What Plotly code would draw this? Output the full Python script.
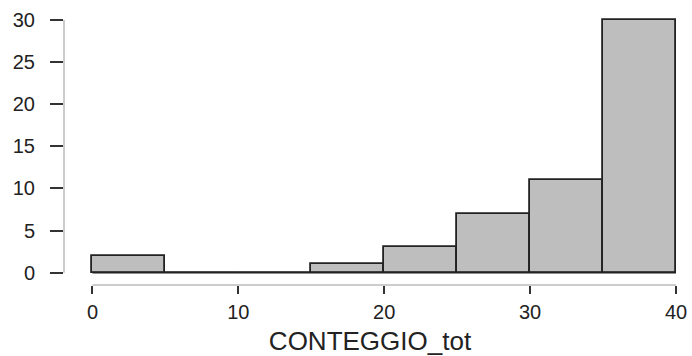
import plotly.graph_objects as go

# Histogram of CONTEGGIO_tot: bin edges and counts per bin
bin_edges = [0, 5, 10, 15, 20, 25, 30, 35, 40]
counts = [2, 0, 0, 1, 3, 7, 11, 30]
x_ticks = [0, 10, 20, 30, 40]
y_ticks = [0, 5, 10, 15, 20, 25, 30]

centers = [(a + b) / 2 for a, b in zip(bin_edges[:-1], bin_edges[1:])]
widths = [b - a for a, b in zip(bin_edges[:-1], bin_edges[1:])]

fig = go.Figure()

# baseline under the empty bins (zero-height rectangles)
fig.add_trace(go.Scatter(
    x=[bin_edges[0], bin_edges[-1]], y=[0, 0], mode="lines",
    line=dict(color="#222222", width=1.8), hoverinfo="skip", showlegend=False,
))

fig.add_trace(go.Bar(
    x=centers, y=counts, width=widths,
    marker=dict(color="#BEBEBE", line=dict(color="#222222", width=1.8)),
    showlegend=False,
))

font_family = "Liberation Sans, Arial, sans-serif"

fig.update_layout(
    width=692, height=356,
    margin=dict(l=64, r=16, t=17, b=71, autoexpand=False),
    paper_bgcolor="white", plot_bgcolor="white",
    font=dict(family=font_family, color="#222222"),
    bargap=0,
    xaxis=dict(
        range=[-1.95, 40], tickvals=x_ticks, showgrid=False, zeroline=False,
        showline=False, ticks="outside", ticklen=8, tickwidth=2, tickcolor="#333333",
        tickfont=dict(size=20), ticklabelstandoff=1, automargin=False,
        title=dict(text="CONTEGGIO_tot", font=dict(size=26), standoff=12),
    ),
    yaxis=dict(
        range=[-1.46, 30.356], tickvals=y_ticks, showgrid=False, zeroline=False,
        showline=False, ticks="outside", ticklen=13, tickwidth=2, tickcolor="#333333",
        tickfont=dict(size=20), ticklabelstandoff=11, automargin=False,
    ),
    shapes=[
        # R-style axis lines spanning only the tick range
        dict(type="line", xref="x", yref="paper", x0=x_ticks[0], x1=x_ticks[-1],
             y0=0, y1=0, line=dict(color="#CCCCCC", width=2)),
        dict(type="line", xref="paper", yref="y", x0=0, x1=0,
             y0=y_ticks[0], y1=y_ticks[-1], line=dict(color="#CCCCCC", width=2)),
    ],
)

fig.write_html("out.html")
